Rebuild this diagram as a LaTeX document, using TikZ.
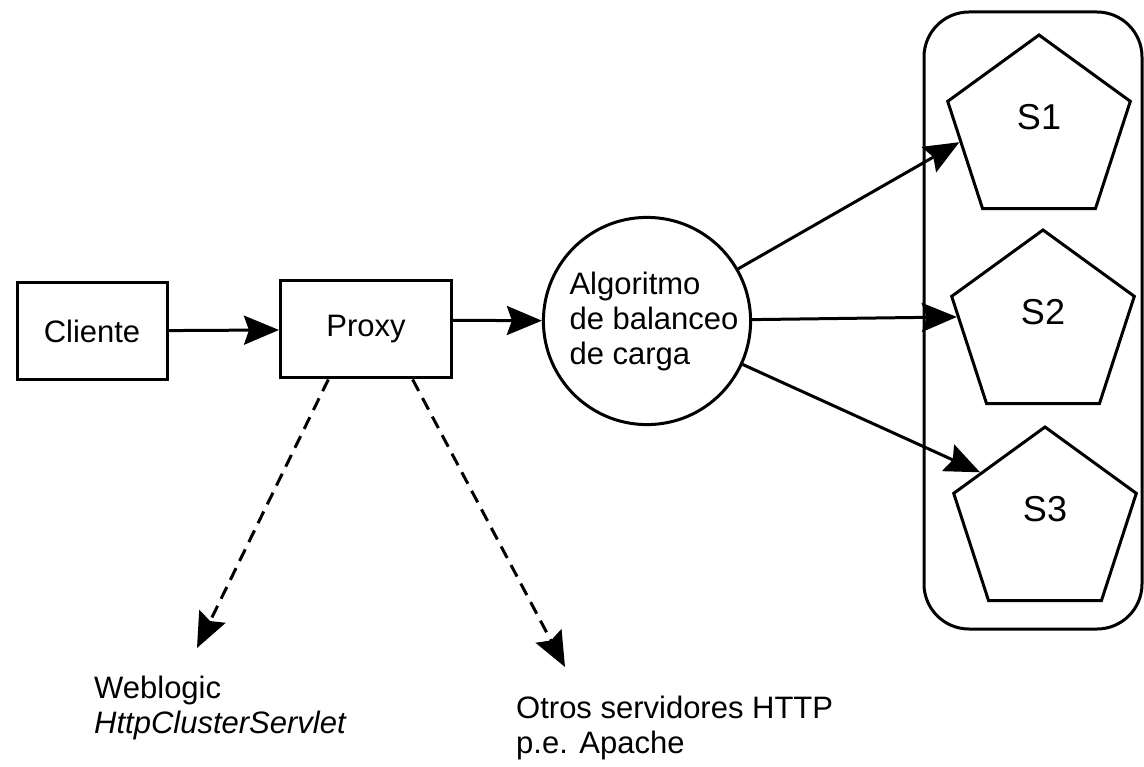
\documentclass[tikz,border=0pt]{standalone}
\usepackage{fontspec}
\setmainfont{Liberation Sans}
\usepackage{tikz}
\usetikzlibrary{shapes.geometric}
\usetikzlibrary{arrows.meta}
\tikzset{
every node/.style={ % Texto de todos los nodos
font=\fontsize{31}{35}\selectfont},
box/.style={draw, line width=3pt, minimum height=97pt},
balancer/.style={ % Nodo circular del algoritmo
draw, circle, line width=3pt, minimum size=192pt, inner sep=0pt, align=left},
server/.style={ % Servidores del cluster
draw, regular polygon, regular polygon sides=5, minimum size=192pt,
inner sep=0pt, line width=3pt, text depth=28pt, font=\fontsize{36}{40}\selectfont},
cluster/.style={draw, rounded corners=45pt, line width=3pt,
minimum width=218pt, minimum height=617pt},
note/.style={anchor=north west, align=left, inner sep=0pt},
every edge/.style={ % Flechas
draw,
-{Stealth[length=35pt,width=29pt,inset=5pt]},
line width=3pt},
via/.style={dash pattern=on 13pt off 8pt}}

\begin{document}
\begin{tikzpicture}[x=1pt, y=1pt]
\useasboundingbox (0,0) rectangle (1144,-767);
\node[cluster] (grupo) at (1033,-320.5) {};
\node[box, minimum width=150pt] (cliente) at (92,-331) {Cliente};
\node[box, minimum width=171pt] (proxy) at (366,-329.5) {Proxy};
\node[balancer] (alg) at (647,-321) {\hspace*{14pt}Algoritmo\\\hspace*{14pt}de balanceo\\\hspace*{14pt}de carga};
\node[server] (s1) at (1039,-131) {S1};
\node[server] (s2) at (1043,-326) {S2};
\node[server] (s3) at (1045,-523) {S3};
\coordinate (wl) at (197,-648);
\coordinate (ot) at (565,-667);
\node[note] (weblogic) at (94,-676) {Weblogic\\\textit{HttpClusterServlet}};
\node[note] (otros) at (516,-696) {Otros servidores HTTP\\p.e. Apache};
\draw (cliente) edge[] (proxy) ;
\draw (proxy.6) edge[] (alg) ;
\draw (alg) edge[] (s1.188) ;
\draw (alg) edge[] (s2.174) ;
\draw (alg) edge[] (s3.142) ;
\draw (proxy.233) edge[via] (wl) ;
\draw (proxy.313) edge[via] (ot) ;
\end{tikzpicture}
\end{document}
